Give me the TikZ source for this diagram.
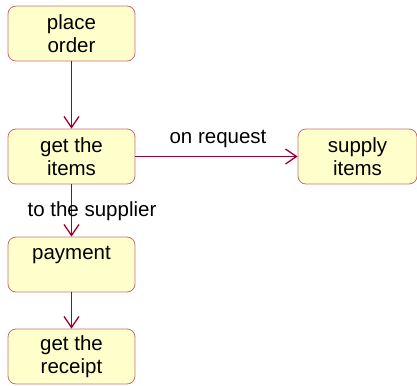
\documentclass[tikz,border=0pt]{standalone}
\usepackage{fontspec}
\setmainfont{Liberation Sans}
\usetikzlibrary{positioning,arrows.meta}
\definecolor{RoseFill}{RGB}{255,255,204}
\definecolor{RoseBorder}{RGB}{204,110,120}
\definecolor{RoseArrow}{RGB}{153,0,51}

\begin{document}
\begin{tikzpicture}[
x=1pt,y=-1pt,
state/.style={
rectangle,
rounded corners=8pt,
draw=RoseBorder,
fill=RoseFill,
line width=0.8pt,
minimum width=127pt,
minimum height=55pt,
inner sep=0pt,
align=center,
font=\fontsize{20.5}{23}\selectfont
},
arrow/.style={
-{Straight Barb[length=11pt,width=15pt,line width=1.3pt]},
line width=1.3pt,
draw=RoseArrow
},
lbl/.style={
font=\fontsize{20.5}{23}\selectfont,
text=black,
inner sep=0pt
}
]
\useasboundingbox (0,0) rectangle (417,385);

\node[state] (order) at (71.5,33.5) {place\\order};
\node[state] (items) at (71.5,156.5) {get the\\items};
\node[state] (payment) at (71.5,264.5) {payment\\ };
\node[state] (receipt) at (71.5,356.5) {get the\\receipt};
\node[state,minimum width=119pt] (supply) at (357.5,156.5) {supply\\items};

\draw[arrow] (order)--(items);
\draw[arrow] (items)--(payment);
\draw[arrow] (payment)--(receipt);
\draw[arrow] (items)--(supply);

\node[lbl] (request) at (218,139) {on request};
\node[lbl] (supplier) at (92,211) {to the supplier};

\end{tikzpicture}
\end{document}
